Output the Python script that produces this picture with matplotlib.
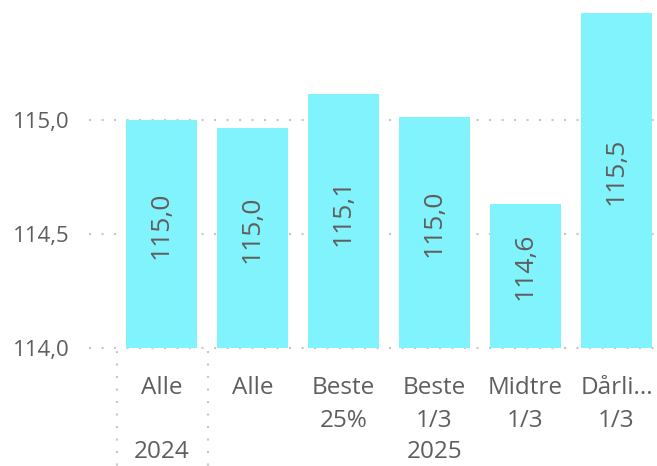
import matplotlib
matplotlib.use("Agg")
import matplotlib.pyplot as plt
import matplotlib.transforms as mtransforms

# values per segment
years = ["2024", "2025"]
year_groups = [[0], [1, 2, 3, 4, 5]]
categories = ["Alle", "Alle", "Beste\n25%", "Beste\n1/3", "Midtre\n1/3", "Dårli...\n1/3"]
values = [115.00, 114.965, 115.114, 115.013, 114.633, 115.47]
yticks = [114.0, 114.5, 115.0]

bar_color = "#80F3FD"
text_color = "#605E5C"
grid_color = "#C8C6C4"

plt.rcParams['font.family'] = ['Open Sans', 'DejaVu Sans']

W, H = 657, 466
fig = plt.figure(figsize=(W / 100, H / 100), dpi=100)
ax = fig.add_axes([89 / W, (H - 348) / H, (W - 89) / W, 348 / H])

x = list(range(len(values)))
ax.bar(x, values, width=0.78, color=bar_color, bottom=0, zorder=2)
ax.set_ylim(114.0, 115.526)
ax.set_xlim(-0.797, 5.445)

# value labels inside the bars, nudged a little above centre
for xi, v in zip(x, values):
    ax.annotate(f"{v:.1f}".replace(".", ","), xy=(xi, (114.0 + v) / 2),
                xytext=(0, 6.5), textcoords="offset points", rotation=90,
                ha="center", va="center", fontsize=19, color=text_color, zorder=3)

# dotted horizontal gridlines
for t in yticks:
    ax.axhline(t, color=grid_color, linewidth=1.5, linestyle=(0, (1, 5)), zorder=1,
               clip_on=False)

ax.set_yticks(yticks)
ax.set_yticklabels([f"{t:.1f}".replace(".", ",") for t in yticks])
ax.tick_params(axis="y", length=0, pad=14, labelsize=16, labelcolor=text_color)
ax.set_xticks([])
for s in ax.spines.values():
    s.set_visible(False)

# category labels, one line at a time
line_offsets = [-40, -73]
for xi, lab in zip(x, categories):
    for i, line in enumerate(lab.split("\n")):
        ax.annotate(line, xy=(xi, 0), xycoords=("data", "axes fraction"),
                    xytext=(0, line_offsets[i] * 0.72), textcoords="offset points",
                    ha="center", va="center", fontsize=17.5, color=text_color,
                    annotation_clip=False)

# year labels and separators
for yr, grp in zip(years, year_groups):
    cx = (grp[0] + grp[-1]) / 2
    ax.annotate(yr, xy=(cx, 0), xycoords=("data", "axes fraction"),
                xytext=(0, -104 * 0.72), textcoords="offset points",
                ha="center", va="center", fontsize=17.5, color=text_color,
                annotation_clip=False)

trans = mtransforms.blended_transform_factory(ax.transData, ax.transAxes)
for sx in [-0.49, 0.51]:
    ax.plot([sx, sx], [-0.01, -0.34], transform=trans, color=grid_color,
            linewidth=1.5, linestyle=(0, (1, 5)), clip_on=False)

fig.savefig("out.png", dpi=100)
